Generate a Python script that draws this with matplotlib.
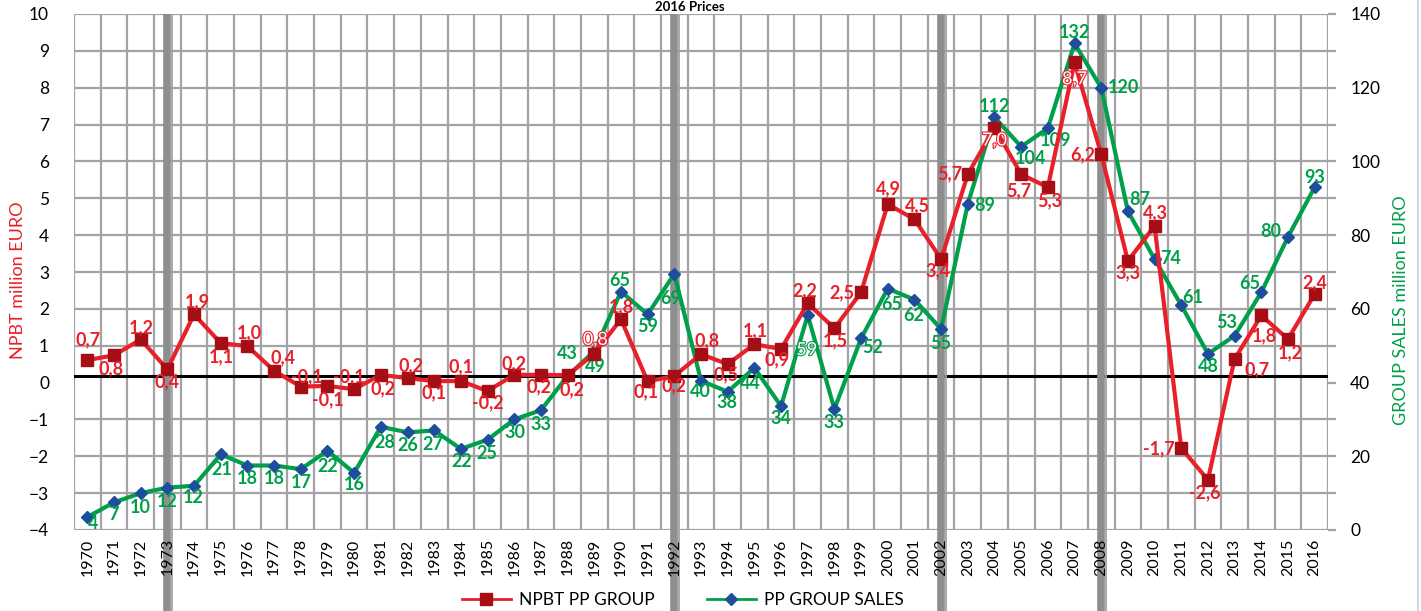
import matplotlib
matplotlib.use("Agg")
import matplotlib.pyplot as plt
import matplotlib.patheffects as pe
from matplotlib.lines import Line2D

plt.rcParams['font.family'] = ['Lato', 'DejaVu Sans']

# data
years = list(range(1970, 2017))
npbt = [0.61, 0.74, 1.17, 0.36, 1.85, 1.07, 0.99, 0.32, -0.11, -0.09,
        -0.18, 0.21, 0.12, 0.04, 0.04, -0.23, 0.21, 0.21, 0.20, 0.78,
        1.72, 0.03, 0.18, 0.77, 0.50, 1.04, 0.91, 2.15, 1.47, 2.45,
        4.84, 4.43, 3.35, 5.65, 6.92, 5.65, 5.30, 8.69, 6.20, 3.30,
        4.25, -1.78, -2.64, 0.64, 1.82, 1.18, 2.40]
npbt_labels = ["0,7", "0,8", "1,2", "0,4", "1,9", "1,1", "1,0", "0,4", "-0,1", "-0,1",
               "-0,1", "0,2", "0,2", "0,1", "0,1", "-0,2", "0,2", "0,2", "0,2", "0,8",
               "1,8", "0,1", "0,2", "0,8", "0,5", "1,1", "0,9", "2,2", "1,5", "2,5",
               "4,9", "4,5", "3,4", "5,7", "7,0", "5,7", "5,3", "8,7", "6,2", "3,3",
               "4,3", "-1,7", "-2,6", "0,7", "1,8", "1,2", "2,4"]
sales = [4, 7, 10, 12, 12, 21, 18, 18, 17, 22,
         16, 28, 26, 27, 22, 25, 30, 33, 43, 49,
         65, 59, 69, 40, 38, 44, 34, 59, 33, 52,
         65, 62, 55, 89, 112, 104, 109, 132, 120, 87,
         74, 61, 48, 53, 65, 80, 93]
sales_pos = [3.5, 7.5, 10, 11.5, 12, 20.5, 17.5, 17.5, 16.5, 21.5,
             15.5, 28, 26.5, 27, 22, 24.5, 30, 32.5, 41.8, 48.5,
             64.7, 58.5, 69.5, 40.5, 37.5, 44, 33.6, 58.3, 32.8, 52,
             65.5, 62.5, 54.5, 88.5, 112, 104, 109, 132, 120, 86.5,
             73.5, 61, 47.8, 52.7, 64.5, 79.5, 93]
recession_years = [1973, 1992, 2002, 2008]

RED = "#E8202A"
DRED = "#A50E15"
GREEN = "#00A04B"
BLUE = "#1C4E9C"
GRID = "#A3A3A5"

# label offsets in pixels (dx, dy up)
npbt_off = [(1, 20), (-3, -13), (1, 12), (0, -12), (3, 13), (1, -14), (2, 13), (9, 13), (6, 10), (0, -14),
            (-5, 12), (2, -14), (3, 12), (0, -12), (0, 14), (0, -12), (0, 11), (-2, -12), (4, -15), (1, 14),
            (0, 12), (-2, -10), (0, -10), (6, 13), (-2, -11), (1, 13), (-4, -11), (-3, 13), (1, -12), (-19, 0),
            (1, 15), (3, 14), (-3, -12), (-18, 1), (0, -13), (-2, -16), (2, -14), (0, -17), (-18, -1), (0, -12),
            (1, 13), (-22, -1), (-3, -13), (22, -11), (3, -20), (2, -14), (0, 11)]
sales_off = [(6, -6), (-1, -12), (0, -14), (0, -14), (-1, -12), (1, -15), (0, -13), (0, -13), (1, -13), (0, -16),
             (0, -12), (4, -16), (0, -13), (-1, -14), (1, -13), (-1, -14), (1, -13), (0, -14), (0, 22), (1, -15),
             (-1, 11), (0, -12), (-4, -25), (-1, -11), (-1, -11), (-4, -16), (0, -12), (-1, -35), (0, -13), (12, -9),
             (4, -16), (-1, -16), (0, -14), (17, -2), (0, 11), (9, -12), (8, -12), (0, 11), (22, 0), (12, 12),
             (16, 1), (11, 8), (0, -13), (-8, 13), (-12, 9), (-17, 5), (0, 10)]
hollow_npbt = [1989, 2004, 2007]
hollow_sales = [1997]

fig = plt.figure(figsize=(14.21, 6.11), dpi=100)
ax = fig.add_axes([74 / 1421, 1 - 530 / 611, (1328 - 74) / 1421, 516 / 611])
ax2 = ax.twinx()
ax.set_zorder(ax2.get_zorder() + 1)
ax.patch.set_visible(False)

x = list(range(len(years)))

ax.set_xlim(-0.5, len(years) - 0.5)
ax.set_ylim(-4, 10)
ax2.set_ylim(0, 140)

# grid, zero line and recession bands sit on the lower (right) axes
for b in range(len(years) + 1):
    ax2.axvline(b - 0.5, color=GRID, lw=1.6, zorder=0)
for v in range(-4, 11):
    if v != 0:
        ax2.plot([-0.5, len(years) - 0.5], [v, v], color=GRID, lw=1.6,
                 zorder=0, transform=ax.transData)
ax2.plot([-0.5, len(years) - 0.5], [0.17, 0.17], color="black", lw=2.2,
         zorder=1, transform=ax.transData)

for ry in recession_years:
    i = years.index(ry)
    ax2.plot([i, i], [10, -7.6], color="#8E8E8E", lw=5.5, clip_on=False,
             solid_capstyle="butt", zorder=1.2, transform=ax.transData)
    ax2.plot([i + 0.17, i + 0.17], [10, -7.6], color=GRID, lw=1.3,
             clip_on=False, solid_capstyle="butt", zorder=1.2,
             transform=ax.transData)

for s in ax.spines.values():
    s.set_visible(False)
for s in ax2.spines.values():
    s.set_visible(False)

ax.set_yticks(range(-4, 11))
ax.tick_params(axis="y", length=0, labelsize=12.5, pad=18)
ax.set_xticks(x)
ax.set_xticklabels([str(y) for y in years], rotation=90, fontsize=11.5)
ax.tick_params(axis="x", length=0, pad=6)

ax2.set_yticks(range(0, 141, 20))
ax2.set_yticks(range(0, 141, 10), minor=True)
ax2.tick_params(axis="y", which="both", length=6, color=GRID, width=1.6,
                labelsize=12.5, pad=10)

# series
ax2.plot(x, sales_pos, color=GREEN, lw=3, marker="D", markersize=6.5,
         markerfacecolor=BLUE, markeredgecolor=BLUE, zorder=3)
ax.plot(x, npbt, color=RED, lw=3, marker="s", markersize=8.5,
        markerfacecolor=DRED, markeredgecolor=DRED, zorder=4)

for i, (v, t, o) in enumerate(zip(npbt, npbt_labels, npbt_off)):
    if years[i] in hollow_npbt:
        ax.annotate(t, (i, v), xytext=o, textcoords="offset pixels", ha="center",
                    va="center", fontsize=13, color="white",
                    path_effects=[pe.withStroke(linewidth=1.6, foreground=RED)], zorder=6)
    else:
        ax.annotate(t, (i, v), xytext=o, textcoords="offset pixels", ha="center",
                    va="center", fontsize=13, color=RED, fontweight="bold", zorder=6)

for i, (v, t, o) in enumerate(zip(sales_pos, sales, sales_off)):
    if years[i] in hollow_sales:
        ax2.annotate(str(t), (i, v), xytext=o, textcoords="offset pixels", ha="center",
                     va="center", fontsize=13, color="white",
                     path_effects=[pe.withStroke(linewidth=1.6, foreground=GREEN)], zorder=6)
    else:
        ax2.annotate(str(t), (i, v), xytext=o, textcoords="offset pixels", ha="center",
                     va="center", fontsize=13, color=GREEN, fontweight="bold", zorder=6)

# axis titles
fig.text(18 / 1421, 1 - 280 / 611, "NPBT million EURO", rotation=90, color=RED,
         fontsize=13, ha="center", va="center")
fig.text(1401 / 1421, 1 - 310 / 611, "GROUP SALES million EURO", rotation=90,
         color=GREEN, fontsize=13, ha="center", va="center")
fig.text(690 / 1421, 1 - 1 / 611, "2016 Prices", fontsize=9.5, ha="center",
         va="top", fontweight="bold")
fig.add_artist(Line2D([1418 / 1421, 1418 / 1421], [0, 1], color="#C9D1DC", lw=1.2))

handles = [Line2D([], [], color=RED, lw=2, marker="s", markersize=8,
                  markerfacecolor=DRED, markeredgecolor=DRED),
           Line2D([], [], color=GREEN, lw=2, marker="D", markersize=6,
                  markerfacecolor=BLUE, markeredgecolor=BLUE)]
fig.legend(handles, ["NPBT PP GROUP", "PP GROUP SALES"], loc="center",
           bbox_to_anchor=(683 / 1421, 1 - 600 / 611), ncol=2, frameon=False,
           fontsize=12.5, handlelength=2.8, columnspacing=3, handletextpad=0.5)

fig.savefig("out.png", dpi=100)
